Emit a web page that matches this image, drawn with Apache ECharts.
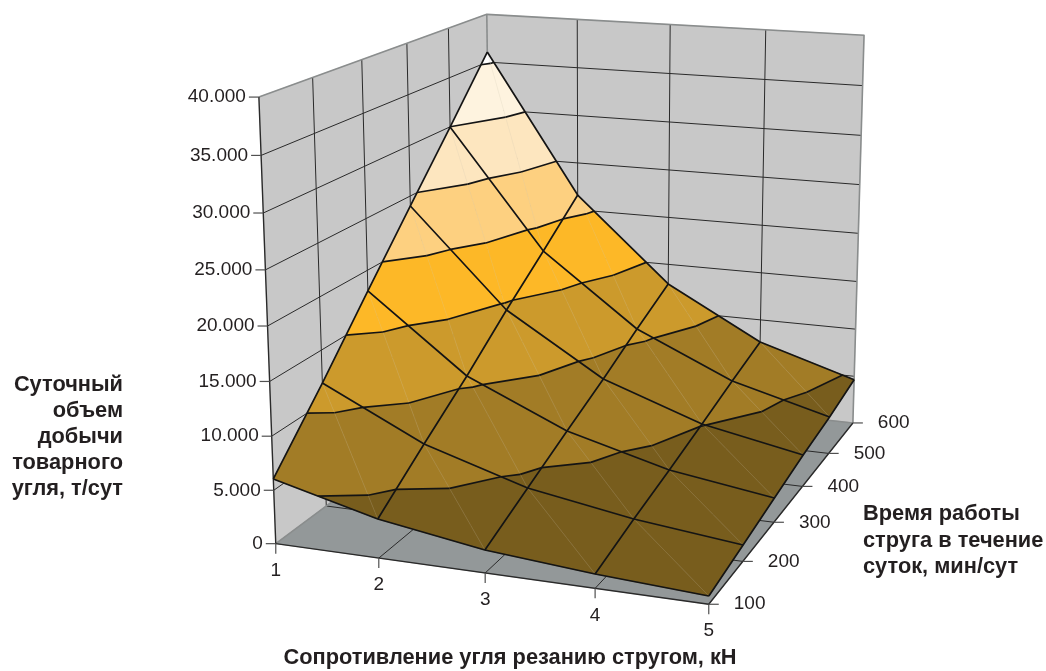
<!DOCTYPE html><html><head><meta charset="utf-8"><script src="https://cdn.jsdelivr.net/npm/echarts@6/dist/echarts.min.js"></script>
<style>html,body{margin:0;background:#fff}#chart{width:1046px;height:671px}</style></head><body><div id="chart"></div>
<script>
const resistance=[1,2,3,4,5];
const workTime=[100,200,300,400,500,600];
const output100=[6050,3610,2100,1290,730];
const output200=[11880,7210,4250,2610,1520];
const output300=[17990,10670,6400,3790,2330];
const output400=[24010,14440,8490,5070,3130];
const output500=[29980,17950,10770,6390,3770];
const output600=[36060,21580,12900,7630,4640];
const rows=[output100,output200,output300,output400,output500,output600];
const outputTicks=[0,5000,10000,15000,20000,25000,30000,35000,40000];
const tickLabels=['0','5.000','10.000','15.000','20.000','25.000','30.000','35.000','40.000'];
const bandColors=['#785d1d','#a27c26','#cc9a2c','#fdb827','#fdd080','#fde6bf','#fef3df','#ffffff'];

// Perspective camera of the 3D box: (resistance, time/100, output/5000) -> plane
const CAM=[99.8977,66.9878,-3.8160,117.0615, 5.7432,-15.5373,-58.0945,569.5799, -0.0163065,0.0459505,-0.0063447];
function project(c,h,v){const x=c,y=h/100,z=v/5000,p=CAM,w=p[8]*x+p[9]*y+p[10]*z+1;
  return [(p[0]*x+p[1]*y+p[2]*z+p[3])/w,(p[4]*x+p[5]*y+p[6]*z+p[7])/w];}

const C0=resistance[0],C1=resistance[resistance.length-1],H0=workTime[0],H1=workTime[workTime.length-1];
const Z0=outputTicks[0],Z1=outputTicks[outputTicks.length-1];
const FONT="19px 'Liberation Sans', Arial, sans-serif",INK='#231f20';

const fills=[],lines=[],faint=[];
function clipBand(poly,lo,hi){
  const clip=(P,keep,level)=>{const out=[];P.forEach((a,i)=>{const d=P[(i+1)%P.length],ka=keep(a[2]),kd=keep(d[2]);
    if(ka)out.push(a);
    if(ka!==kd){const s=(level-a[2])/(d[2]-a[2]);out.push([a[0]+s*(d[0]-a[0]),a[1]+s*(d[1]-a[1]),level]);}});return out;};
  let r=clip(poly,z=>z>=lo,lo);if(r.length)r=clip(r,z=>z<=hi,hi);return r;
}
function contour(tri,level){
  const seg=[];tri.forEach((a,i)=>{const d=tri[(i+1)%3];
    if((a[2]<level)!==(d[2]<level)){const s=(level-a[2])/(d[2]-a[2]);seg.push([a[0]+s*(d[0]-a[0]),a[1]+s*(d[1]-a[1]),level]);}});
  return seg.length===2?seg:null;
}
for(let j=workTime.length-2;j>=0;j--)for(let i=0;i<resistance.length-1;i++){
  const P=(a,b)=>[resistance[a],workTime[b],rows[b][a]];
  const tris=[[P(i,j),P(i+1,j),P(i,j+1)],[P(i+1,j+1),P(i,j+1),P(i+1,j)]];
  tris.forEach(tri=>{
    bandColors.forEach((col,k)=>{const lo=outputTicks[k],hi=outputTicks[k+1];
      const poly=clipBand(tri,lo,hi);if(poly.length>2)fills.push({pts:poly,col});
      if(k>0){const s=contour(tri,lo);if(s)lines.push(s);}});
  });
  faint.push([P(i,j+1),P(i+1,j)]);
}
rows.forEach((r,j)=>lines.push(r.map((v,i)=>[resistance[i],workTime[j],v])));
resistance.forEach((c,i)=>lines.push(rows.map((r,j)=>[c,workTime[j],r[i]])));

const planes=[
 {pts:[[C0,H0,Z0],[C0,H1,Z0],[C0,H1,Z1],[C0,H0,Z1]],col:'#c8c8c8'},
 {pts:[[C0,H1,Z0],[C1,H1,Z0],[C1,H1,Z1],[C0,H1,Z1]],col:'#c8c8c8'},
 {pts:[[C0,H0,Z0],[C1,H0,Z0],[C1,H1,Z0],[C0,H1,Z0]],col:'#939899'}];
const wallGrid=[];
outputTicks.slice(1,-1).forEach(z=>wallGrid.push([[C0,H0,z],[C0,H1,z],[C1,H1,z]]));
workTime.slice(1,-1).forEach(h=>wallGrid.push([[C0,h,Z0],[C0,h,Z1]]));
resistance.slice(1,-1).forEach(c=>wallGrid.push([[c,H1,Z0],[c,H1,Z1]]));
const floorGrid=[];
workTime.slice(1,-1).forEach(h=>floorGrid.push([[C0,h,Z0],[C1,h,Z0]]));
resistance.slice(1,-1).forEach(c=>floorGrid.push([[c,H0,Z0],[c,H1,Z0]]));
const frameGray=[[[C0,H0,Z1],[C0,H1,Z1],[C1,H1,Z1],[C1,H1,Z0]],[[C0,H1,Z0],[C0,H1,Z1]],[[C0,H0,Z0],[C0,H1,Z0],[C1,H1,Z0]]];
const frameDark=[[[C0,H0,Z1],[C0,H0,Z0],[C1,H0,Z0],[C1,H1,Z0]]];

const toPx=(api,q)=>api.coord(project(q[0],q[1],q[2]));
function polySeries(list,z){return {type:'custom',coordinateSystem:'cartesian2d',clip:false,silent:true,z,
  data:list.map((_,i)=>[i]),encode:{x:0,y:0},
  renderItem:(p,api)=>{const it=list[p.dataIndex];return {type:'polygon',shape:{points:it.pts.map(q=>toPx(api,q))},
    style:{fill:it.col,stroke:it.col,lineWidth:0.6}};}};}
function lineSeries(list,z,color,width){return {type:'custom',coordinateSystem:'cartesian2d',clip:false,silent:true,z,
  data:list.map((_,i)=>[i]),encode:{x:0,y:0},
  renderItem:(p,api)=>({type:'polyline',shape:{points:list[p.dataIndex].map(q=>toPx(api,q))},
    style:{fill:'none',stroke:color,lineWidth:width,lineJoin:'round'}})};}
function tickSeries(list,z){return {type:'custom',coordinateSystem:'cartesian2d',clip:false,silent:true,z,
  data:list.map((_,i)=>[i]),encode:{x:0,y:0},
  renderItem:(p,api)=>{const t=list[p.dataIndex],o=toPx(api,t.at);
    return {type:'group',children:[
      {type:'line',shape:{x1:o[0],y1:o[1],x2:o[0]+t.dx,y2:o[1]+t.dy},style:{stroke:'#505050',lineWidth:1.2}},
      {type:'text',style:{text:t.text,x:o[0]+t.lx,y:o[1]+t.ly,align:t.align,verticalAlign:'middle',font:FONT,fill:INK}}]};}};}
const ticks=[];
outputTicks.forEach((v,i)=>ticks.push({at:[C0,H0,v],dx:-10,dy:0,lx:-13,ly:0,align:'right',text:tickLabels[i]}));
resistance.forEach(c=>ticks.push({at:[c,H0,Z0],dx:0,dy:10,lx:0,ly:27,align:'center',text:String(c)}));
workTime.forEach(h=>ticks.push({at:[C1,h,Z0],dx:10,dy:0,lx:25,ly:0,align:'left',text:String(h)}));

const titleFont="bold 21.8px 'Liberation Sans', Arial, sans-serif";
const txt=(text,x,y,align)=>({type:'text',silent:true,style:{text,x,y,align,verticalAlign:'middle',font:titleFont,fill:INK}});
const yTitle=['Суточный','объем','добычи','товарного','угля, т/сут'];
const tTitle=['Время работы','струга в течение','суток, мин/сут'];
const xTitle='Сопротивление угля резанию стругом, кН';
const graphic=[];
yTitle.forEach((s,i)=>graphic.push(txt(s,123,385+i*26,'right')));
tTitle.forEach((s,i)=>graphic.push(txt(s,863,514+i*26.5,'left')));
graphic.push(txt(xTitle,510,658,'center'));

const chart=echarts.init(document.getElementById('chart'),null,{renderer:'canvas'});
chart.setOption({animation:false,backgroundColor:'#fff',
 grid:{left:0,right:0,top:0,bottom:0},
 xAxis:{type:'value',min:0,max:1046,show:false},
 yAxis:{type:'value',min:0,max:671,inverse:true,show:false},
 series:[
  polySeries(planes,1),
  lineSeries(wallGrid,2,'#2a2a2a',1),
  lineSeries(floorGrid,2,'#2a2a2a',1),
  lineSeries(frameGray,3,'#8a8d8d',1.6),
  lineSeries(frameDark,3,'#2a2a2a',1.4),
  tickSeries(ticks,3),
  polySeries(fills,4),
  lineSeries(faint,5,'rgba(210,200,170,0.3)',0.6),
  lineSeries(lines,6,'#141414',1.7)
 ],
 graphic});
</script></body></html>
